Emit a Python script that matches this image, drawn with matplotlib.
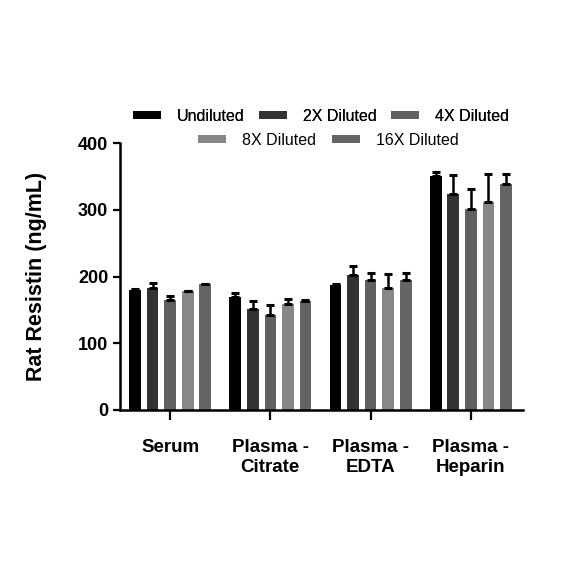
import numpy as np
import matplotlib
matplotlib.use("Agg")
import matplotlib.pyplot as plt
from matplotlib.patches import Patch

# sample types on x axis
samples = ["Serum", "Plasma -\nCitrate", "Plasma -\nEDTA", "Plasma -\nHeparin"]
dilutions = ["Undiluted", "2X Diluted", "4X Diluted", "8X Diluted", "16X Diluted"]
colors = ["#000000", "#333333", "#606060", "#878787", "#646464"]

# mean values (ng/mL), one list per dilution, order follows samples
undiluted = [180, 170, 187, 350]
dil_2x = [183, 152, 203, 324]
dil_4x = [165, 142, 195, 301]
dil_8x = [178, 159, 183, 311]
dil_16x = [189, 164, 195, 339]

# upper error bar (SD)
err_undiluted = [2, 6, 2, 7]
err_2x = [8, 12, 13, 28]
err_4x = [6, 16, 11, 30]
err_8x = [1, 7, 21, 43]
err_16x = [0, 1, 11, 15]

means = [undiluted, dil_2x, dil_4x, dil_8x, dil_16x]
errs = [err_undiluted, err_2x, err_4x, err_8x, err_16x]

plt.rcParams["font.family"] = ["Liberation Sans", "DejaVu Sans"]

fig = plt.figure(figsize=(5.84, 5.84), dpi=100)
ax = fig.add_axes([0.2055, 0.298, 0.69, 0.457])

x = np.arange(len(samples))
pitch = 0.175
width = 0.117
for i, (vals, e) in enumerate(zip(means, errs)):
    pos = x + (i - 2) * pitch
    ax.bar(pos, vals, width=width, color=colors[i], label=dilutions[i], zorder=2)
    ax.errorbar(pos, vals, yerr=[np.zeros(len(e)), e], fmt="none",
                ecolor="black", elinewidth=1.8, capsize=3.2, capthick=2.2, zorder=3)

ax.set_xlim(-0.5, 3.52)
ax.set_ylim(0, 400)
ax.set_yticks([0, 100, 200, 300, 400])
ax.set_xticks(x)
ax.set_xticklabels(samples, fontsize=13.5, fontweight="bold", linespacing=1.2)
ax.tick_params(axis="y", labelsize=13, width=1.6, length=5)
ax.tick_params(axis="x", width=1.6, length=7, pad=14)
for lbl in ax.get_yticklabels():
    lbl.set_fontweight("bold")
ax.set_ylabel("Rat Resistin (ng/mL)", fontsize=15.5, fontweight="bold")
ax.yaxis.set_label_coords(-0.18, 0.5)

for s in ["top", "right"]:
    ax.spines[s].set_visible(False)
for s in ["left", "bottom"]:
    ax.spines[s].set_linewidth(1.8)

# two-row legend: 3 on top, 2 centred below
handles = [Patch(facecolor=c, edgecolor="none") for c in colors]
leg_kw = dict(frameon=False, fontsize=11.5, handlelength=1.75, handleheight=0.4,
              handletextpad=1.0, loc="center")
leg1 = fig.legend(handles[:3], dilutions[:3], ncol=3, columnspacing=0.9,
                  bbox_to_anchor=(0.55, 0.801), **leg_kw)
leg2 = fig.legend(handles[3:], dilutions[3:], ncol=2, columnspacing=1.0,
                  bbox_to_anchor=(0.5625, 0.760), **leg_kw)
fig.add_artist(leg1)

fig.savefig("out.png", dpi=100)
